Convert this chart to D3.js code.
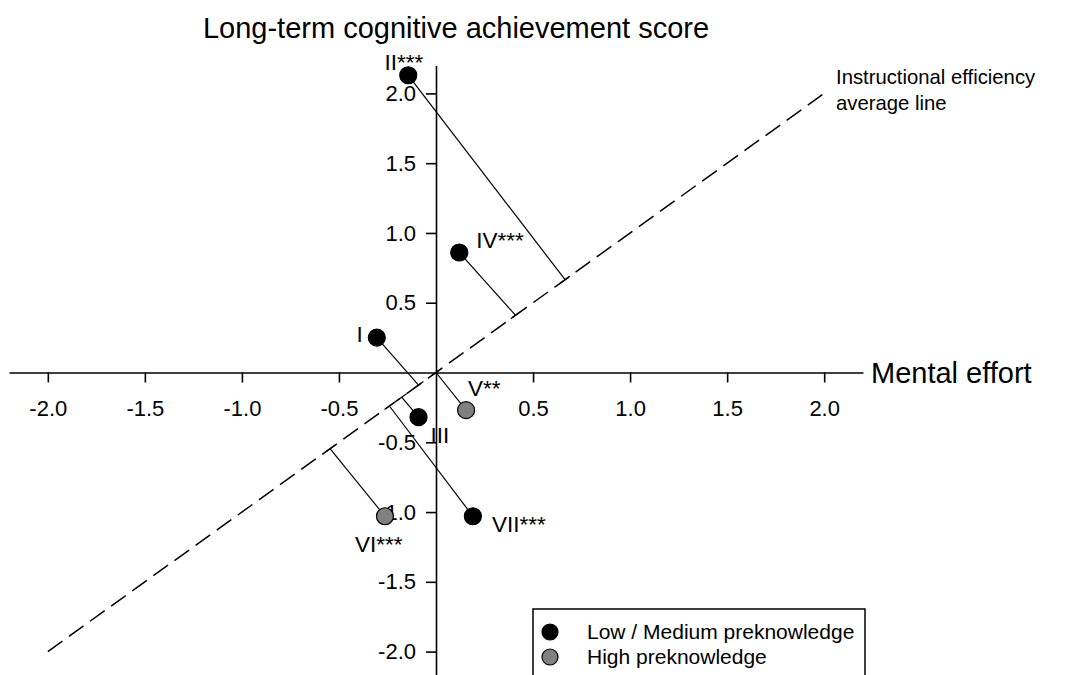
<!DOCTYPE html>
<html>
<head>
<script src="https://d3js.org/d3.v7.min.js"></script>
<style>
  body { margin: 0; background: #fff; }
  svg { display: block; font-family: Arial, "Liberation Sans", sans-serif; }
  .axis path, .axis line { stroke: #000; stroke-width: 1.6px; }
  .axis text { font-size: 22px; fill: #000; font-family: Arial, "Liberation Sans", sans-serif; }
</style>
</head>
<body>
<div id="chart"></div>
<script>
// groups of the study, mental effort (x) and achievement (y), z-scores
var groups = ["I", "II", "III", "IV", "V", "VI", "VII"];
var effort = [-0.305, -0.143, -0.09, 0.12, 0.155, -0.263, 0.19];
var achievement = [0.25, 2.13, -0.32, 0.86, -0.27, -1.03, -1.03];
var stars = ["", "***", "", "***", "**", "***", "***"];
var preknowledge = ["low", "low", "low", "low", "high", "high", "low"];
// where the perpendicular meets the average line (value on x = y)
var foot = [-0.09, 0.665, -0.177, 0.41, 0.0, -0.546, -0.24];
var tickVals = [-2.0, -1.5, -1.0, -0.5, 0.5, 1.0, 1.5, 2.0];
var avgLine = [-2, 2];
var legendLabels = ["Low / Medium preknowledge", "High preknowledge"];

var W = 1080, H = 675;
var svg = d3.select("#chart").append("svg").attr("width", W).attr("height", H);

var x = d3.scaleLinear().domain([-2.2, 2.2]).range([9, 863]);
var y = d3.scaleLinear().domain([-2.2, 2.2]).range([679.5, 65.5]);
var fill = { low: "#000", high: "#808080" };

// axes crossing at the origin
svg.append("g").attr("class", "axis")
  .attr("transform", "translate(0," + y(0) + ")")
  .call(d3.axisBottom(x).tickValues(tickVals).tickSize(10).tickPadding(18)
    .tickSizeOuter(0).tickFormat(function(d) { return d.toFixed(1); }));

svg.append("g").attr("class", "axis")
  .attr("transform", "translate(" + x(0) + ",0)")
  .call(d3.axisLeft(y).tickValues(tickVals).tickSize(10).tickPadding(10)
    .tickSizeOuter(0).tickFormat(function(d) { return d.toFixed(1); }));

// average line, dashed
svg.append("line")
  .attr("x1", x(avgLine[0])).attr("y1", y(avgLine[0]))
  .attr("x2", x(avgLine[1])).attr("y2", y(avgLine[1]))
  .attr("stroke", "#000").attr("stroke-width", 1.5)
  .attr("stroke-dasharray", "18,8");

// unit vector along the average line in pixels
var dx = x(1) - x(0), dy = y(1) - y(0);
var len = Math.sqrt(dx * dx + dy * dy);
var ux = dx / len, uy = dy / len;

groups.forEach(function(g, i) {
  var fx = x(foot[i]), fy = y(foot[i]);
  svg.append("line")
    .attr("x1", x(effort[i])).attr("y1", y(achievement[i]))
    .attr("x2", fx).attr("y2", fy)
    .attr("stroke", "#000").attr("stroke-width", 1.2);
  svg.append("line")
    .attr("x1", fx - ux * 6).attr("y1", fy - uy * 6)
    .attr("x2", fx + ux * 6).attr("y2", fy + uy * 6)
    .attr("stroke", "#000").attr("stroke-width", 1.2);
});

// point labels
var labelPos = {
  "I": [-14, 4, "end"], "II": [15, -5, "end"], "III": [12, 26, "start"],
  "IV": [17, -4, "start"], "V": [2, -14, "start"], "VI": [-30, 36, "start"],
  "VII": [19, 16, "start"]
};
groups.forEach(function(g, i) {
  var p = labelPos[g];
  svg.append("text")
    .attr("x", x(effort[i]) + p[0]).attr("y", y(achievement[i]) + p[1])
    .attr("text-anchor", p[2])
    .attr("font-size", 22.5)
    .text(g + stars[i]);
});

svg.selectAll(".pt")
  .data(groups)
  .enter()
  .append("circle")
  .attr("class", "pt")
  .attr("cx", function(d, i) { return x(effort[i]); })
  .attr("cy", function(d, i) { return y(achievement[i]); })
  .attr("r", 8.5)
  .attr("fill", function(d, i) { return fill[preknowledge[i]]; })
  .attr("stroke", "#000").attr("stroke-width", 1.2);

// axis titles
svg.append("text").attr("x", 456).attr("y", 38).attr("text-anchor", "middle")
  .attr("font-size", 29).text("Long-term cognitive achievement score");
svg.append("text").attr("x", 871).attr("y", 383)
  .attr("font-size", 29).text("Mental effort");
svg.append("text").attr("x", 836).attr("y", 84)
  .attr("font-size", 20.3).text("Instructional efficiency");
svg.append("text").attr("x", 836).attr("y", 110)
  .attr("font-size", 20.3).text("average line");

// legend
var lg = svg.append("g").attr("transform", "translate(533,609)");
lg.append("rect").attr("width", 332).attr("height", 90)
  .attr("fill", "#fff").attr("stroke", "#000").attr("stroke-width", 1.5);
legendLabels.forEach(function(t, i) {
  lg.append("circle").attr("cx", 17).attr("cy", 23 + i * 25).attr("r", 8)
    .attr("fill", i === 0 ? fill.low : fill.high)
    .attr("stroke", "#000").attr("stroke-width", 1.2);
  lg.append("text").attr("x", 54).attr("y", 30 + i * 25)
    .attr("font-size", 21).text(t);
});
</script>
</body>
</html>
